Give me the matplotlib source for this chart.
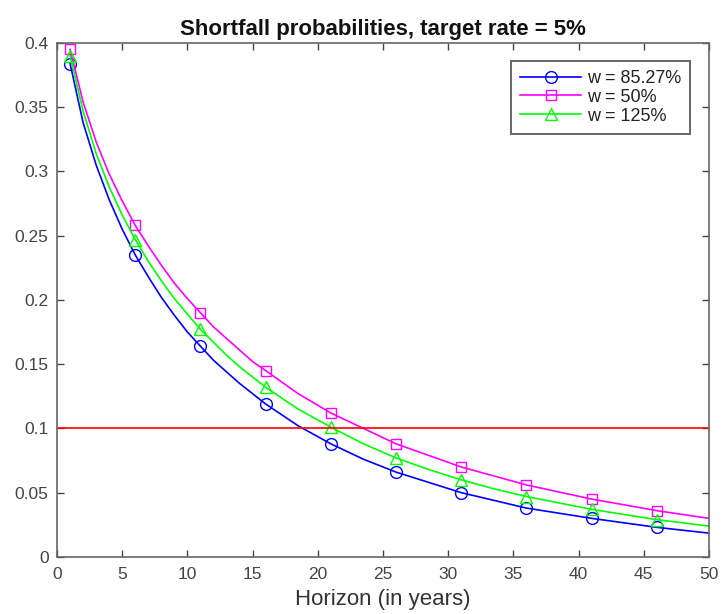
import matplotlib
matplotlib.use('Agg')
import matplotlib.pyplot as plt

# horizon grid (years) used for the smooth curves
years = [1, 2, 3, 4, 5, 6, 7, 8, 9, 10, 11, 12, 13, 14, 15, 16, 18.5, 21, 23.5,
         26, 28.5, 31, 33.5, 36, 41, 46, 50]
# indices of the marker positions (1, 6, 11, ..., 46)
marker_idx = [0, 5, 10, 15, 17, 19, 21, 23, 24, 25]

p_w8527 = [0.384, 0.338, 0.305, 0.278, 0.255, 0.235, 0.218, 0.202, 0.188, 0.175,
           0.164, 0.153, 0.144, 0.135, 0.127, 0.119, 0.102, 0.088, 0.076, 0.066,
           0.058, 0.050, 0.044, 0.038, 0.030, 0.023, 0.0185]
p_w50 = [0.395, 0.354, 0.323, 0.298, 0.277, 0.258, 0.242, 0.227, 0.213, 0.201,
         0.190, 0.179, 0.170, 0.161, 0.152, 0.145, 0.127, 0.112, 0.100, 0.088,
         0.079, 0.070, 0.063, 0.056, 0.045, 0.036, 0.030]
p_w125 = [0.390, 0.347, 0.314, 0.288, 0.266, 0.247, 0.230, 0.215, 0.201, 0.189,
          0.177, 0.167, 0.157, 0.148, 0.140, 0.132, 0.115, 0.101, 0.088, 0.077,
          0.068, 0.060, 0.053, 0.047, 0.037, 0.029, 0.024]
labels = ['w = 85.27%', 'w = 50%', 'w = 125%']
target_level = 0.1

plt.rcParams['font.family'] = ['Liberation Sans', 'DejaVu Sans']

fig = plt.figure(figsize=(7.22, 6.14), dpi=100)
ax = fig.add_axes([0.079, 0.093, 0.903, 0.837])

ax.plot(years, p_w8527, color='#0000ff', marker='o', markevery=marker_idx,
        markerfacecolor='none', markersize=8.5, lw=1.2, label=labels[0])
ax.plot(years, p_w50, color='#ff00ff', marker='s', markevery=marker_idx,
        markerfacecolor='none', markersize=7, lw=1.2, label=labels[1])
ax.plot(years, p_w125, color='#00ff00', marker='^', markevery=marker_idx,
        markerfacecolor='none', markersize=8.5, lw=1.2, label=labels[2])
ax.axhline(target_level, color='#ff0000', lw=1.2)

ax.set_xlim(0, 50)
ax.set_ylim(0, 0.4)
ax.set_xticks(range(0, 51, 5))
ax.set_yticks([0, 0.05, 0.1, 0.15, 0.2, 0.25, 0.3, 0.35, 0.4])
ax.set_yticklabels(['0', '0.05', '0.1', '0.15', '0.2', '0.25', '0.3', '0.35', '0.4'])
ax.tick_params(direction='in', top=True, right=True, labelsize=12.5,
               colors='#444444', length=5, width=1)
ax.tick_params(axis='x', pad=7)
ax.tick_params(axis='y', pad=6)
for s in ax.spines.values():
    s.set_color('#666666')
    s.set_linewidth(1.2)

ax.set_title('Shortfall probabilities, target rate = 5%', fontsize=16,
             fontweight='bold', pad=6, color='#111111')
ax.set_xlabel('Horizon (in years)', fontsize=16, color='#333333', labelpad=5)

leg = ax.legend(loc='upper right', bbox_to_anchor=(0.971, 0.965), fontsize=13,
                fancybox=False, framealpha=1, handlelength=3.4, borderpad=0.5,
                labelspacing=0.1, handletextpad=0.3, borderaxespad=0)
leg.get_frame().set_edgecolor('#666666')
leg.get_frame().set_linewidth(1.4)
for t in leg.get_texts():
    t.set_color('#222222')

fig.savefig('out.png', dpi=100)
